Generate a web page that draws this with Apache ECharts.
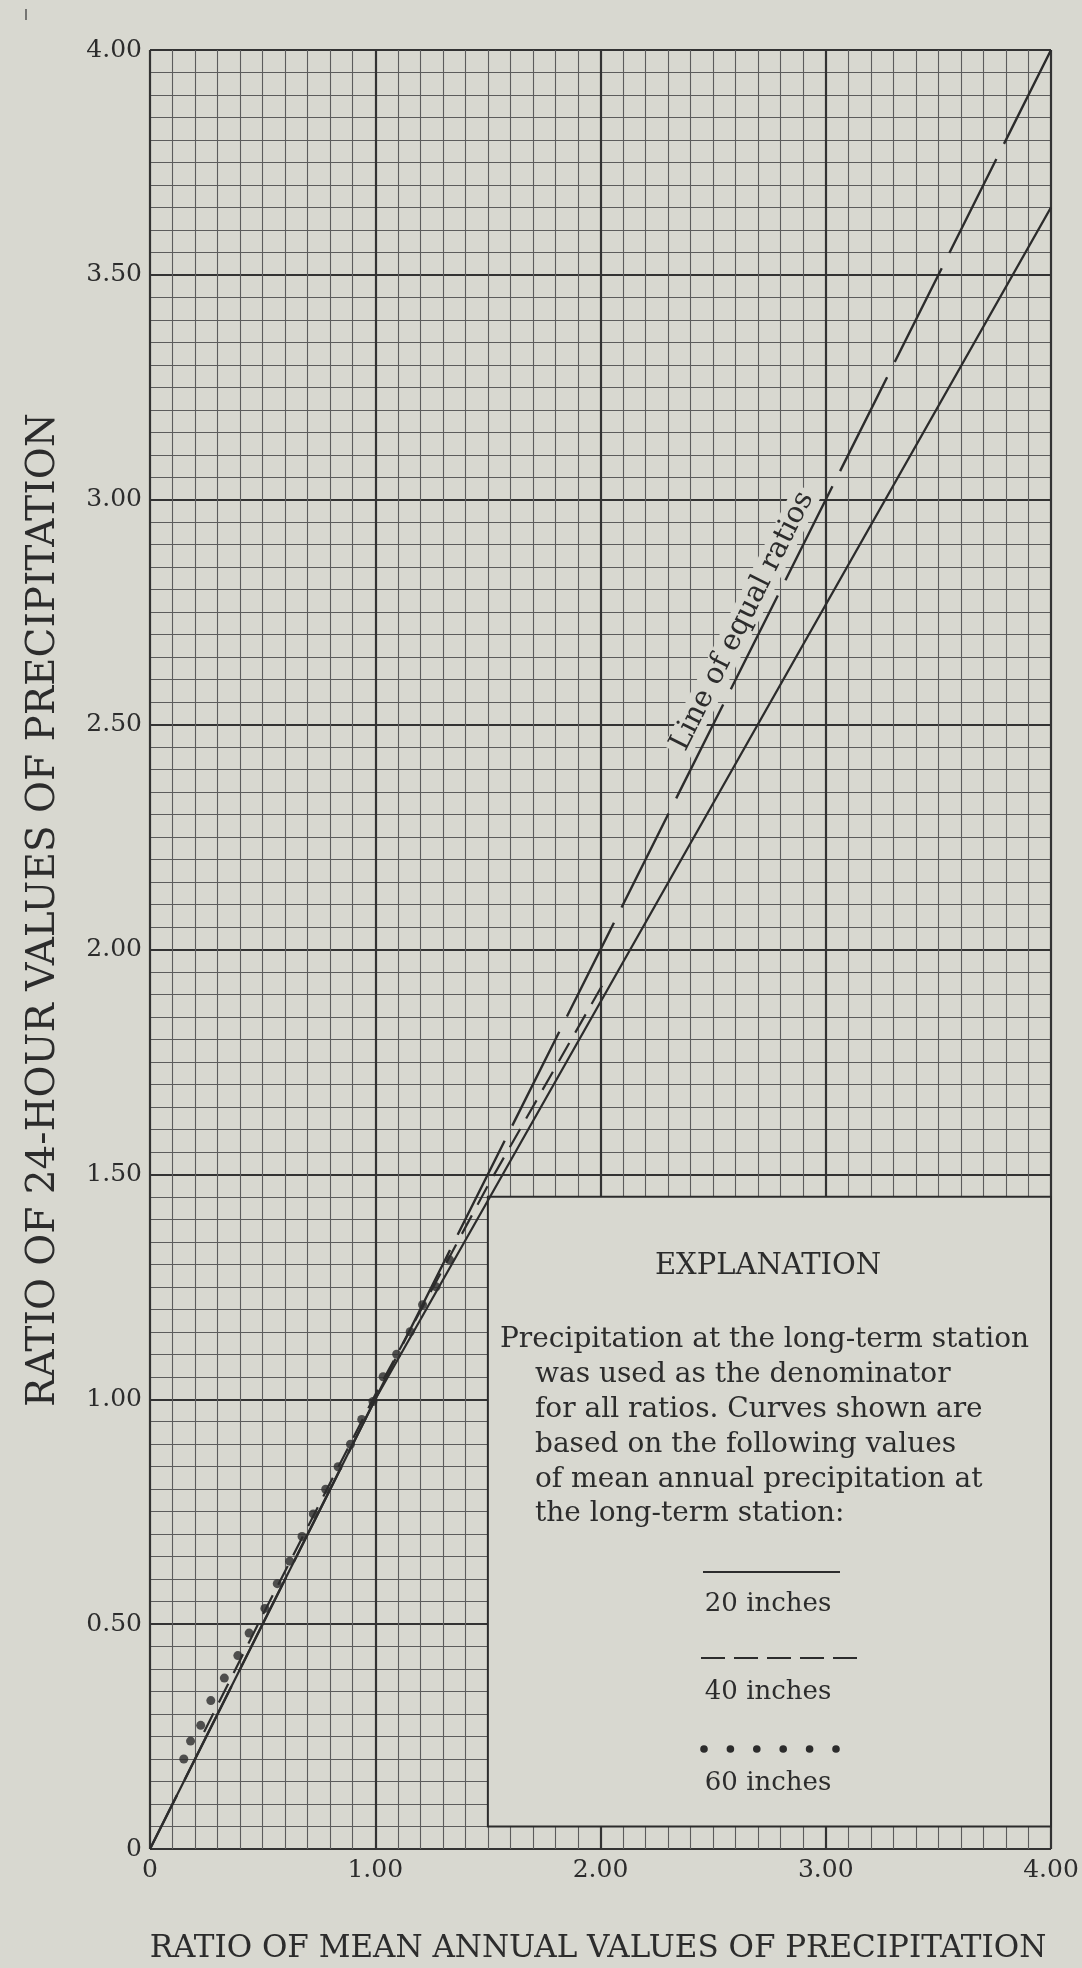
<!DOCTYPE html>
<html>
<head>
<meta charset="utf-8">
<script src="https://cdn.jsdelivr.net/npm/echarts@6/dist/echarts.min.js"></script>
<style>
  html, body { margin: 0; padding: 0; background: #d8d8d0; }
  #chart { width: 1082px; height: 1968px; }
</style>
</head>
<body>
<div id="chart"></div>
<script>
// tick values and their printed labels
const xTicks = [0, 1, 2, 3, 4];
const xTickLabels = ['0', '1.00', '2.00', '3.00', '4.00'];
const yTicks = [0, 0.5, 1, 1.5, 2, 2.5, 3, 3.5, 4];
const yTickLabels = ['0', '0.50', '1.00', '1.50', '2.00', '2.50', '3.00', '3.50', '4.00'];

// curves  [x ratio, y ratio]
const equalRatios = [[4, 4], [0, 0]];
const inches20 = [[0, 0], [1, 1], [4, 3.65]];
const inches40 = [[0.24, 0.26], [0.5, 0.52], [1, 1.01], [1.5, 1.475], [2.03, 1.94]];
const inches60 = [
  [0.15, 0.2], [0.18, 0.24], [0.225, 0.275], [0.27, 0.33], [0.33, 0.38], [0.39, 0.43],
  [0.44, 0.48], [0.51, 0.535], [0.565, 0.59], [0.62, 0.64], [0.675, 0.695], [0.725, 0.745],
  [0.78, 0.8], [0.835, 0.85], [0.89, 0.9], [0.94, 0.955], [0.99, 0.995], [1.035, 1.05],
  [1.095, 1.1], [1.155, 1.15], [1.21, 1.21], [1.27, 1.25], [1.33, 1.31]
];

// explanation box corners and the equal-ratio label spot (data units)
const explanationBox = [[1.5, 0.05], [4, 1.45]];
const equalRatioLabelAt = [2.63, 2.73];

const explanationText = [
  'Precipitation at the long-term station',
  'was used as the denominator',
  'for all ratios. Curves shown are',
  'based on the following values',
  'of mean annual precipitation at',
  'the long-term station:'
];
const legendNames = ['20 inches', '40 inches', '60 inches'];

const BG = '#d8d8d0';
const INK = '#2c2c2c';
const FONT = '"DejaVu Serif", "Liberation Serif", serif';

const chart = echarts.init(document.getElementById('chart'), null, { renderer: 'canvas' });

const graphics = [
  { type: 'line', z: 100, shape: { x1: 26, y1: 9, x2: 26, y2: 20 }, style: { stroke: '#555', lineWidth: 1.5 } },
  {
    type: 'text', z: 100, x: 598, y: 1949,
    style: { text: 'RATIO OF MEAN ANNUAL VALUES OF PRECIPITATION', font: '31px ' + FONT, fill: INK, align: 'center', verticalAlign: 'middle' }
  },
  {
    type: 'text', z: 100, x: 44, y: 910, rotation: Math.PI / 2,
    style: { text: 'RATIO OF 24-HOUR VALUES OF PRECIPITATION', font: '39px ' + FONT, fill: INK, align: 'center', verticalAlign: 'middle' }
  },
  {
    type: 'text', z: 100, x: 768, y: 1266,
    style: { text: 'EXPLANATION', font: '29px ' + FONT, fill: INK, align: 'center', verticalAlign: 'middle' }
  }
];
const textY = [1340, 1375, 1410, 1445, 1480, 1514];
explanationText.forEach((t, i) => {
  graphics.push({
    type: 'text', z: 100, x: i === 0 ? 500 : 535, y: textY[i],
    style: { text: t, font: '28px ' + FONT, fill: INK, align: 'left', verticalAlign: 'middle' }
  });
});
const legendTextY = [1604, 1692, 1783];
legendNames.forEach((t, i) => {
  graphics.push({
    type: 'text', z: 100, x: 768, y: legendTextY[i],
    style: { text: t, font: '26px ' + FONT, fill: INK, align: 'center', verticalAlign: 'middle' }
  });
});
// legend samples
graphics.push({ type: 'line', z: 100, shape: { x1: 703, y1: 1572, x2: 840, y2: 1572 }, style: { stroke: INK, lineWidth: 2 } });
graphics.push({ type: 'line', z: 100, shape: { x1: 701, y1: 1658, x2: 857, y2: 1658 }, style: { stroke: INK, lineWidth: 2, lineDash: [24, 9] } });
for (let k = 0; k < 6; k++) {
  graphics.push({ type: 'circle', z: 100, shape: { cx: 704 + k * 26.4, cy: 1749, r: 3.8 }, style: { fill: INK } });
}

const option = {
  backgroundColor: BG,
  animation: false,
  grid: { left: 150, top: 50, right: 31, bottom: 119 },
  xAxis: {
    type: 'value', min: 0, max: 4, interval: 1,
    axisLine: { show: false },
    axisTick: { show: false },
    axisLabel: {
      margin: 9, color: INK, fontFamily: FONT, fontSize: 25,
      formatter: v => xTickLabels[xTicks.indexOf(Math.round(v * 10) / 10)]
    },
    splitLine: { show: true, lineStyle: { color: '#333', width: 2.2 } },
    minorTick: { show: false, splitNumber: 10 },
    minorSplitLine: { show: true, lineStyle: { color: '#5c5c5c', width: 1.1 } }
  },
  yAxis: {
    type: 'value', min: 0, max: 4, interval: 0.5,
    axisLine: { show: false },
    axisTick: { show: false },
    axisLabel: {
      margin: 8, color: INK, fontFamily: FONT, fontSize: 25,
      formatter: v => yTickLabels[yTicks.indexOf(Math.round(v * 100) / 100)]
    },
    splitLine: { show: true, lineStyle: { color: '#333', width: 2.2 } },
    minorTick: { show: false, splitNumber: 10 },
    minorSplitLine: { show: true, lineStyle: { color: '#5c5c5c', width: 1.1 } }
  },
  series: [
    {
      name: '20 inches', type: 'line', data: inches20, showSymbol: false, symbol: 'none',
      lineStyle: { color: INK, width: 2.2 },
      markArea: {
        silent: true,
        itemStyle: { color: BG, opacity: 1, borderColor: INK, borderWidth: 2 },
        label: { show: false },
        data: [[{ coord: explanationBox[0] }, { coord: explanationBox[1] }]]
      }
    },
    {
      name: '40 inches', type: 'line', data: inches40, showSymbol: false, symbol: 'none',
      lineStyle: { color: INK, width: 2.2, type: [21, 12] }
    },
    {
      name: 'Line of equal ratios', type: 'line', data: equalRatios, showSymbol: false, symbol: 'none',
      lineStyle: { color: INK, width: 2.4, type: [105, 17] },
      markPoint: {
        silent: true,
        symbol: 'circle', symbolSize: 0,
        label: {
          show: true, formatter: 'Line of equal ratios', rotate: 63.4,
          color: INK, fontFamily: FONT, fontSize: 29,
          backgroundColor: BG, padding: [0, 4]
        },
        data: [{ coord: equalRatioLabelAt }]
      }
    },
    {
      name: '60 inches', type: 'scatter', data: inches60, symbolSize: 9,
      itemStyle: { color: INK }
    }
  ],
  graphic: graphics
};

chart.setOption(option);
</script>
</body>
</html>
